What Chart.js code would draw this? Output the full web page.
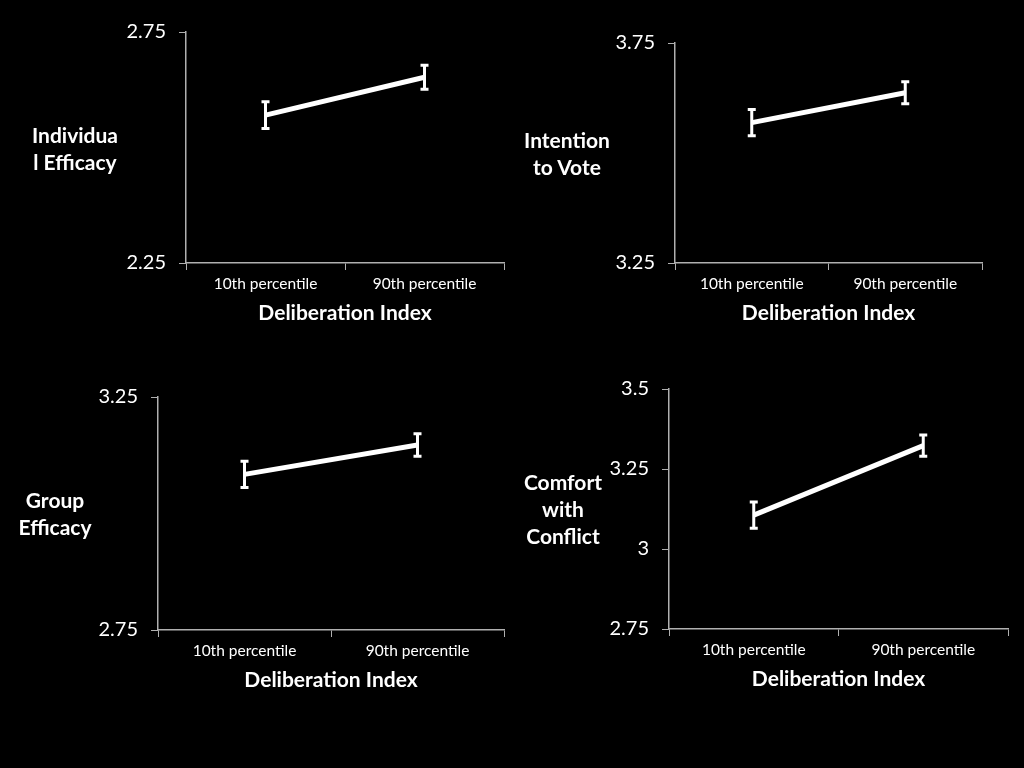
<!DOCTYPE html>
<html lang="en">
<head>
    <meta charset="UTF-8">
    <title>Deliberation Index</title>
    <script src="https://cdn.jsdelivr.net/npm/chart.js"></script>
    <style>
        body {
            margin: 0;
            padding: 0;
            background-color: #000;
            width: 1024px;
            height: 768px;
            overflow: hidden;
            position: relative;
            font-family: Lato, "Open Sans", sans-serif;
        }
        canvas {
            position: absolute;
        }
        .ytitle {
            position: absolute;
            color: #fff;
            font-weight: bold;
            font-size: 21px;
            line-height: 27px;
            text-align: center;
            width: 120px;
        }
    </style>
</head>
<body>
    <canvas id="c1"></canvas>
    <canvas id="c2"></canvas>
    <canvas id="c3"></canvas>
    <canvas id="c4"></canvas>

    <div class="ytitle" style="left:15px; top:121px;">Individua<br>l Efficacy</div>
    <div class="ytitle" style="left:507px; top:126px;">Intention<br>to Vote</div>
    <div class="ytitle" style="left:-5px; top:486px;">Group<br>Efficacy</div>
    <div class="ytitle" style="left:503px; top:468px;">Comfort<br>with<br>Conflict</div>

    <script>
        // data
        const categories = ['10th percentile', '90th percentile'];
        const xTitle = 'Deliberation Index';

        const individualEfficacy = [2.570, 2.652];
        const individualEfficacyErr = [0.029, 0.026];
        const individualTicks = [2.25, 2.75];

        const intentionToVote = [3.569, 3.637];
        const intentionToVoteErr = [0.030, 0.025];
        const intentionTicks = [3.25, 3.75];

        const groupEfficacy = [3.084, 3.147];
        const groupEfficacyErr = [0.028, 0.024];
        const groupTicks = [2.75, 3.25];

        const comfortWithConflict = [3.106, 3.323];
        const comfortWithConflictErr = [0.041, 0.033];
        const comfortTicks = [2.75, 3, 3.25, 3.5];

        // error bar plugin
        const errorBars = {
            id: 'errorBars',
            afterDatasetsDraw(chart) {
                const ctx = chart.ctx;
                const yScale = chart.scales.y;
                chart.data.datasets.forEach((ds, di) => {
                    const meta = chart.getDatasetMeta(di);
                    meta.data.forEach((pt, i) => {
                        const v = ds.data[i];
                        const e = ds.errors[i];
                        const top = yScale.getPixelForValue(v + e);
                        const bot = yScale.getPixelForValue(v - e);
                        ctx.save();
                        ctx.strokeStyle = '#fff';
                        ctx.lineWidth = 3;
                        ctx.beginPath();
                        ctx.moveTo(pt.x, top);
                        ctx.lineTo(pt.x, bot);
                        ctx.moveTo(pt.x - 4, top);
                        ctx.lineTo(pt.x + 4, top);
                        ctx.moveTo(pt.x - 4, bot);
                        ctx.lineTo(pt.x + 4, bot);
                        ctx.stroke();
                        ctx.restore();
                    });
                });
            }
        };

        const axisColor = '#b0b0b0';

        function makeChart(id, area, values, errors, ticks) {
            const canvas = document.getElementById(id);
            const padL = 90, padT = 15, padR = 10, padB = 70;
            const w = area.right - area.left + padL + padR;
            canvas.width = w;
            canvas.height = area.bottom - area.top + padT + padB;

            const chart = new Chart(canvas.getContext('2d'), {
                type: 'line',
                data: {
                    labels: categories,
                    datasets: [{
                        data: values,
                        errors: errors,
                        borderColor: '#fff',
                        borderWidth: 5,
                        pointRadius: 0,
                        fill: false,
                        tension: 0
                    }]
                },
                options: {
                    responsive: false,
                    maintainAspectRatio: false,
                    animation: false,
                    layout: { padding: { top: padT, right: padR, left: 0, bottom: 0 } },
                    plugins: {
                        legend: { display: false },
                        tooltip: { enabled: false }
                    },
                    scales: {
                        x: {
                            offset: true,
                            afterFit(scale) { scale.height = padB; },
                            grid: {
                                offset: true,
                                drawOnChartArea: false,
                                drawTicks: true,
                                tickLength: 7,
                                color: axisColor
                            },
                            border: { color: axisColor, width: 1.5 },
                            ticks: {
                                color: '#fff',
                                padding: 5,
                                maxRotation: 0,
                                font: { family: 'Lato', size: 15.5 }
                            },
                            title: {
                                display: true,
                                text: xTitle,
                                color: '#fff',
                                padding: { top: 0, bottom: 7 },
                                font: { family: 'Lato', size: 21, weight: 'bold' }
                            }
                        },
                        y: {
                            min: ticks[0],
                            max: ticks[ticks.length - 1],
                            afterFit(scale) { scale.width = padL; },
                            afterBuildTicks(scale) {
                                scale.ticks = ticks.map(v => ({ value: v }));
                            },
                            grid: {
                                drawOnChartArea: false,
                                drawTicks: true,
                                tickLength: 7,
                                color: axisColor
                            },
                            border: { color: axisColor, width: 1.5 },
                            ticks: {
                                color: '#fff',
                                padding: 13,
                                font: { family: 'Lato', size: 20 },
                                callback: v => String(v)
                            }
                        }
                    }
                },
                plugins: [errorBars]
            });

            // fit the plot area to the wanted box, then place the canvas
            const ca = chart.chartArea;
            const extra = (area.bottom - area.top) - (ca.bottom - ca.top);
            if (Math.abs(extra) > 0.5) {
                chart.resize(w, canvas.height + extra);
            }
            const ca2 = chart.chartArea;
            canvas.style.left = (area.left - ca2.left) + 'px';
            canvas.style.top = (area.top - ca2.top) + 'px';
            return chart;
        }

        makeChart('c1', { left: 186, top: 32, right: 504, bottom: 263 },
            individualEfficacy, individualEfficacyErr, individualTicks);
        makeChart('c2', { left: 675, top: 43, right: 982, bottom: 263 },
            intentionToVote, intentionToVoteErr, intentionTicks);
        makeChart('c3', { left: 158, top: 397, right: 504, bottom: 630 },
            groupEfficacy, groupEfficacyErr, groupTicks);
        makeChart('c4', { left: 669, top: 389, right: 1008, bottom: 629 },
            comfortWithConflict, comfortWithConflictErr, comfortTicks);
    </script>
</body>
</html>
